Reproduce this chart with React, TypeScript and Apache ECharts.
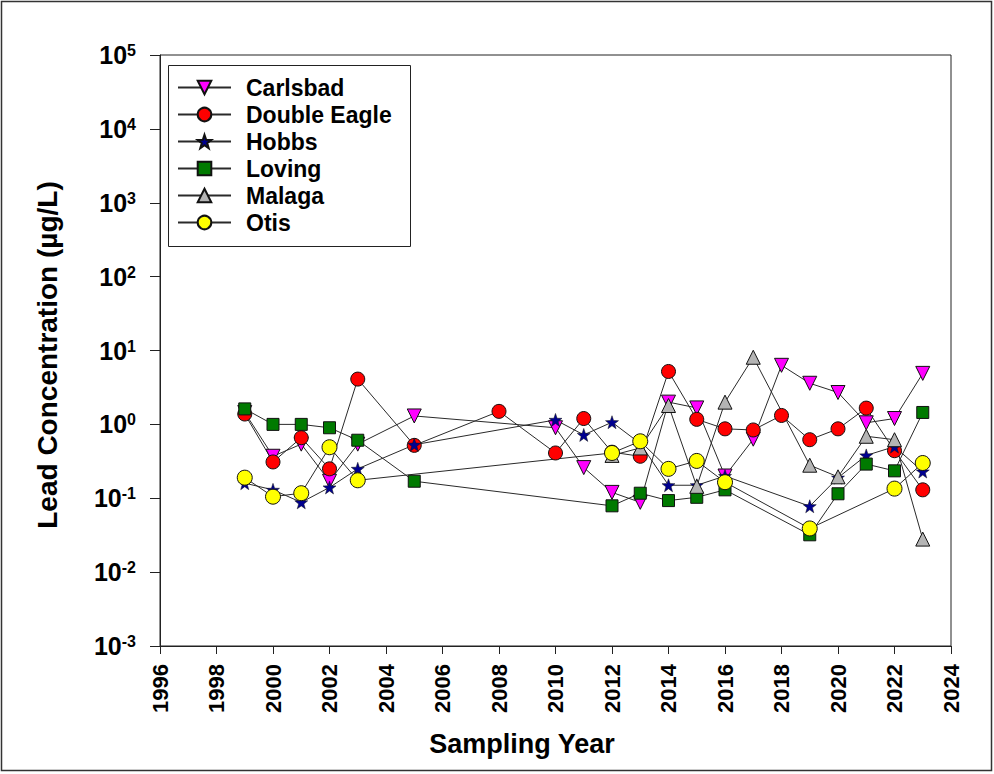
import React, { useEffect, useRef } from "react";
import * as echarts from "echarts";

const FONT = 'Arial, "Liberation Sans", Helvetica, sans-serif';

const seriesNames = ["Carlsbad", "Double Eagle", "Hobbs", "Loving", "Malaga", "Otis"];

const xTickMin = 1996;
const xTickMax = 2024;
const xTickStep = 2;
const yMin = 0.001;
const yMax = 100000;

const carlsbadYears = [1999, 2000, 2001, 2002, 2003, 2005, 2010, 2011, 2012, 2013, 2014, 2015, 2016, 2017, 2018, 2019, 2020, 2021, 2022, 2023];
const carlsbadValues = [1.45, 0.37, 0.54, 0.17, 0.54, 1.3, 0.9, 0.26, 0.12, 0.088, 2.0, 1.67, 0.2, 0.63, 6.3, 3.6, 2.7, 1.05, 1.2, 4.9];

const doubleEagleYears = [1999, 2000, 2001, 2002, 2003, 2005, 2008, 2010, 2011, 2012, 2013, 2014, 2015, 2016, 2017, 2018, 2019, 2020, 2021, 2022, 2023];
const doubleEagleValues = [1.38, 0.31, 0.66, 0.25, 4.1, 0.52, 1.5, 0.41, 1.2, 0.42, 0.37, 5.2, 1.17, 0.87, 0.84, 1.32, 0.62, 0.87, 1.66, 0.44, 0.13];

const hobbsYears = [1999, 2000, 2001, 2002, 2003, 2005, 2010, 2011, 2012, 2013, 2014, 2015, 2016, 2019, 2020, 2021, 2022, 2023];
const hobbsValues = [0.16, 0.13, 0.088, 0.14, 0.25, 0.53, 1.15, 0.72, 1.07, 0.55, 0.15, 0.15, 0.2, 0.078, 0.19, 0.38, 0.5, 0.23];

const lovingYears = [1999, 2000, 2001, 2002, 2003, 2005, 2012, 2013, 2014, 2015, 2016, 2019, 2020, 2021, 2022, 2023];
const lovingValues = [1.62, 1.0, 1.0, 0.9, 0.61, 0.17, 0.079, 0.117, 0.093, 0.103, 0.13, 0.032, 0.115, 0.29, 0.235, 1.45];

const malagaYears = [2012, 2013, 2014, 2015, 2016, 2017, 2019, 2020, 2021, 2022, 2023];
const malagaValues = [0.38, 0.48, 1.8, 0.145, 2.0, 8.1, 0.28, 0.195, 0.69, 0.62, 0.028];

const otisYears = [1999, 2000, 2001, 2002, 2003, 2012, 2013, 2014, 2015, 2016, 2019, 2022, 2023];
const otisValues = [0.19, 0.105, 0.117, 0.49, 0.175, 0.41, 0.59, 0.25, 0.32, 0.165, 0.039, 0.135, 0.3];

const STAR =
  "path://M0,-1L0.235,-0.324L0.951,-0.309L0.38,0.124L0.588,0.809L0,0.4L-0.588,0.809L-0.38,0.124L-0.951,-0.309L-0.235,-0.324Z";

function pairs(xs: number[], ys: number[]) {
  return xs.map((x, i) => [x, ys[i]]);
}

export default function App() {
  const ref = useRef<HTMLDivElement>(null);

  useEffect(() => {
    if (!ref.current) return;
    const chart = echarts.init(ref.current, null, { renderer: "svg" });

    const lineStyle = { color: "#2a2a2a", width: 1 };
    const mk = (
      name: string,
      data: number[][],
      symbol: string,
      size: number,
      color: string,
      rotate = 0,
      borderWidth = 1
    ) => ({
      name,
      type: "line",
      data,
      symbol,
      symbolSize: size,
      symbolRotate: rotate,
      showAllSymbol: true,
      lineStyle,
      itemStyle: { color, borderColor: "#111", borderWidth },
      emphasis: { disabled: true },
      silent: true,
    });

    const option: any = {
      animation: false,
      backgroundColor: "#ffffff",
      textStyle: { fontFamily: FONT },
      grid: {
        left: 160,
        top: 55,
        width: 791,
        height: 591,
        show: true,
        borderColor: "#222",
        borderWidth: 1,
        backgroundColor: "transparent",
      },
      xAxis: {
        type: "value",
        min: xTickMin,
        max: xTickMax,
        interval: xTickStep,
        axisLine: { show: true, lineStyle: { color: "#222", width: 1 } },
        axisTick: { show: true, inside: false, length: 8, lineStyle: { color: "#222" } },
        splitLine: { show: false },
        axisLabel: {
          rotate: 90,
          margin: 18,
          fontSize: 22,
          fontWeight: "bold",
          fontFamily: FONT,
          color: "#000",
          formatter: (v: number) => String(v),
        },
      },
      yAxis: {
        type: "log",
        logBase: 10,
        min: yMin,
        max: yMax,
        splitNumber: 8,
        axisLine: { show: true, lineStyle: { color: "#222", width: 1 } },
        axisTick: { show: true, inside: false, length: 10, lineStyle: { color: "#222" } },
        splitLine: { show: false },
        minorTick: { show: false },
        axisLabel: {
          margin: 24,
          formatter: (v: number) => {
            const e = Math.round(Math.log10(v));
            return `{b|10}{s|${e}}`;
          },
          rich: {
            b: { fontSize: 25, fontWeight: "bold", fontFamily: FONT, color: "#000" },
            s: { fontSize: 16, fontWeight: "bold", fontFamily: FONT, color: "#000", verticalAlign: "top" },
          },
        },
      },
      legend: {
        show: true,
        orient: "vertical",
        left: 177,
        top: 76,
        padding: 0,
        itemWidth: 53,
        itemHeight: 17,
        itemGap: 4,
        selectedMode: false,
        data: seriesNames,
        textStyle: {
          fontSize: 23,
          fontWeight: "bold",
          fontFamily: FONT,
          color: "#000",
          padding: [0, 0, 0, 10],
        },
      },
      graphic: [
        {
          type: "rect",
          shape: { x: 1.5, y: 1.5, width: 990, height: 769 },
          style: { fill: "none", stroke: "#333", lineWidth: 1.5 },
          silent: true,
          z: 100,
        },
        {
          type: "rect",
          shape: { x: 168.5, y: 65.5, width: 242, height: 181 },
          style: { fill: "none", stroke: "#222", lineWidth: 1 },
          silent: true,
          z: 100,
        },
        {
          type: "text",
          x: 522,
          y: 744,
          style: {
            text: "Sampling Year",
            font: `bold 27px ${FONT}`,
            fill: "#000",
            align: "center",
            verticalAlign: "middle",
          },
          silent: true,
        },
        {
          type: "text",
          x: 47,
          y: 355,
          rotation: Math.PI / 2,
          style: {
            text: "Lead Concentration (µg/L)",
            font: `bold 28px ${FONT}`,
            fill: "#000",
            align: "center",
            verticalAlign: "middle",
          },
          silent: true,
        },
      ],
      series: [
        mk(seriesNames[0], pairs(carlsbadYears, carlsbadValues), "triangle", 14, "#ff00ff", 180),
        mk(seriesNames[1], pairs(doubleEagleYears, doubleEagleValues), "circle", 14, "#ff0000"),
        mk(seriesNames[2], pairs(hobbsYears, hobbsValues), STAR, 13, "#000090", 0, 0.5),
        mk(seriesNames[3], pairs(lovingYears, lovingValues), "rect", 12, "#007a00"),
        mk(seriesNames[4], pairs(malagaYears, malagaValues), "triangle", 14, "#b4b4b4"),
        mk(seriesNames[5], pairs(otisYears, otisValues), "circle", 15, "#ffff00"),
      ],
    };

    chart.setOption(option);
    return () => chart.dispose();
  }, []);

  return (
    <div
      ref={ref}
      style={{ position: "fixed", left: 0, top: 0, width: 994, height: 774, background: "#fff" }}
    />
  );
}
